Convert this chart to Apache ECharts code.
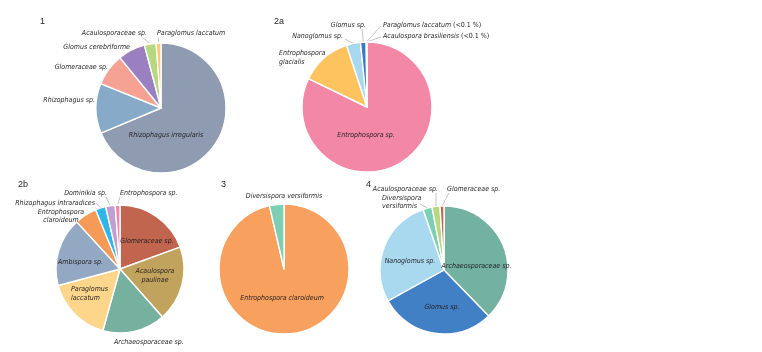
<!DOCTYPE html>
<html><head><meta charset="utf-8">
<script src="https://cdn.jsdelivr.net/npm/echarts@6/dist/echarts.min.js"></script>
<style>html,body{margin:0;padding:0;background:#fff}#c{width:762px;height:352px}</style>
</head><body><div id="c"></div>
<script>
// ---- data ----
const pie1Names = ['Rhizophagus irregularis','Rhizophagus sp.','Glomeraceae sp.','Glomus cerebriforme','Acaulosporaceae sp.','Paraglomus laccatum'];
const pie1Values = [68.7, 12.4, 8.0, 6.8, 2.9, 1.2];
const pie2aNames = ['Entrophospora sp.','Entrophospora glacialis','Nanoglomus sp.','Glomus sp.','Paraglomus laccatum (<0.1 %)','Acaulospora brasiliensis (<0.1 %)'];
const pie2aValues = [82.1, 12.7, 3.5, 1.4, 0.1, 0.1];
const pie2bNames = ['Glomeraceae sp.','Acaulospora paulinae','Archaeosporaceae sp.','Paraglomus laccatum','Ambispora sp.','Entrophospora claroideum','Rhizophagus intraradices','Dominikia sp.','Entrophospora sp.'];
const pie2bValues = [19.4, 19.0, 15.8, 16.5, 17.3, 5.6, 2.6, 2.4, 1.2];
const pie3Names = ['Entrophospora claroideum','Diversispora versiformis'];
const pie3Values = [96.4, 3.6];
const pie4Names = ['Archaeosporaceae sp.','Glomus sp.','Nanoglomus sp.','Diversispora versiformis','Acaulosporaceae sp.','Glomeraceae sp.'];
const pie4Values = [37.8, 29.3, 27.8, 2.3, 2.0, 1.0];
const panelTitles = ['1','2a','2b','3','4'];

// ---- styles (not data) ----
const pie1Colors = ['#8f9bb0','#86aac8','#f5a193','#9a80c0','#b5d880','#fbc87a'];
const pie2aColors = ['#f387a6','#fdc35e','#a8d8ef','#3b78c0','#fbc87a','#9fcf8f'];
const pie2bColors = ['#c1654e','#c2a35e','#76b1a0','#fdd68c','#92a8c3','#f59b57','#2fb5ea','#c09dd2','#f386a5'];
const pie3Colors = ['#f8a05d','#7ccfb3'];
const pie4Colors = ['#73b1a0','#4180c4','#a9d9ef','#7ccfb3','#b5d880','#c1654e'];

// label placement per slice: [x, y, align, leader-line start point or null, wrap]
const lay1 = [[166,135,'center',null,0],[95,100,'right',null,0],[108,67,'right',null,0],[130,47,'right',null,0],[147,33,'right',[143,38],0],[157,33,'left',[158.5,37.5],0]];
const lay2a = [[366,135,'center',null,0],[279,57.5,'left',null,1],[343,36,'right',[345,39],0],[366,25,'right',[362,29],0],[383,25,'left',[381,26],0],[383,36,'left',[381,37],0]];
const lay2b = [[147,241,'center',null,0],[155,275.5,'center',null,1],[114,342,'left',null,0],[71,293.5,'left',null,1],[80.5,262,'center',null,0],[61,216,'center',null,1],[95,203.5,'right',[96,203],0],[107,193,'right',[106,197],0],[120,193,'left',[120,197],0]];
const lay3 = [[282,298.5,'center',null,0],[284,196,'center',null,0]];
const lay4 = [[476.5,266,'center',null,0],[442,307,'center',null,0],[410,261,'center',null,0],[382,202,'left',[420,204],1],[438,189,'right',[436,193],0],[447,189,'left',[449,193],0]];

const FONT = '"Liberation Sans Narrow","DejaVu Sans Condensed","Noto Sans",sans-serif';
const FS = 7;
const TXT = '#231f20';

function labelText(name, wrap) {
  let main = name, note = '';
  const k = name.indexOf(' (');
  if (k >= 0) { main = name.slice(0, k); note = name.slice(k); }
  if (wrap) main = main.replace(' ', '\n');
  const lines = main.split('\n').map(s => '{i|' + s + '}');
  let t = lines.join('\n');
  if (note) t += '{n|' + note + '}';
  return t;
}

function makeSeries(names, values, colors, lay, center, radius) {
  return {
    type: 'pie',
    center: center,
    radius: radius,
    startAngle: 90,
    clockwise: true,
    avoidLabelOverlap: false,
    animation: false,
    itemStyle: { borderColor: '#fff', borderWidth: 1.4 },
    emphasis: { disabled: true },
    label: {
      show: true,
      position: 'outside',
      color: TXT,
      rich: {
        i: { fontFamily: FONT, fontStyle: 'italic', fontSize: FS, color: TXT, lineHeight: 8.5 },
        n: { fontFamily: FONT, fontStyle: 'normal', fontSize: FS, color: TXT, lineHeight: 8.5 }
      }
    },
    labelLine: { show: true, length: 4, length2: 2, lineStyle: { color: '#9a9a9a', width: 0.6 } },
    labelLayout: function (p) {
      const l = lay[p.dataIndex];
      const out = { x: l[0], y: l[1], align: l[2], verticalAlign: 'middle', hideOverlap: false };
      if (l[3] && p.labelLinePoints) {
        const a = p.labelLinePoints[0];
        out.labelLinePoints = [[a[0], a[1]], l[3], l[3]];
      }
      return out;
    },
    data: names.map((n, i) => ({
      name: n,
      value: values[i],
      itemStyle: { color: colors[i] },
      label: { formatter: labelText(n, lay[i][4]) },
      labelLine: { show: !!lay[i][3] }
    }))
  };
}

const chart = echarts.init(document.getElementById('c'), null, { renderer: 'canvas' });
const titlePos = [[40,17],[274,17],[18,180],[221,180],[366,180]];
chart.setOption({
  backgroundColor: '#fff',
  animation: false,
  title: panelTitles.map((t, i) => ({
    text: t, left: titlePos[i][0], top: titlePos[i][1], padding: 0,
    textStyle: { fontFamily: '"Liberation Sans","Noto Sans",sans-serif', fontSize: 9, fontWeight: 'normal', color: TXT }
  })),
  series: [
    makeSeries(pie1Names, pie1Values, pie1Colors, lay1, [161,108], 65),
    makeSeries(pie2aNames, pie2aValues, pie2aColors, lay2a, [367,107], 65),
    makeSeries(pie2bNames, pie2bValues, pie2bColors, lay2b, [120,269], 64),
    makeSeries(pie3Names, pie3Values, pie3Colors, lay3, [284,269], 65),
    makeSeries(pie4Names, pie4Values, pie4Colors, lay4, [444,270], 64)
  ]
});
</script></body></html>
